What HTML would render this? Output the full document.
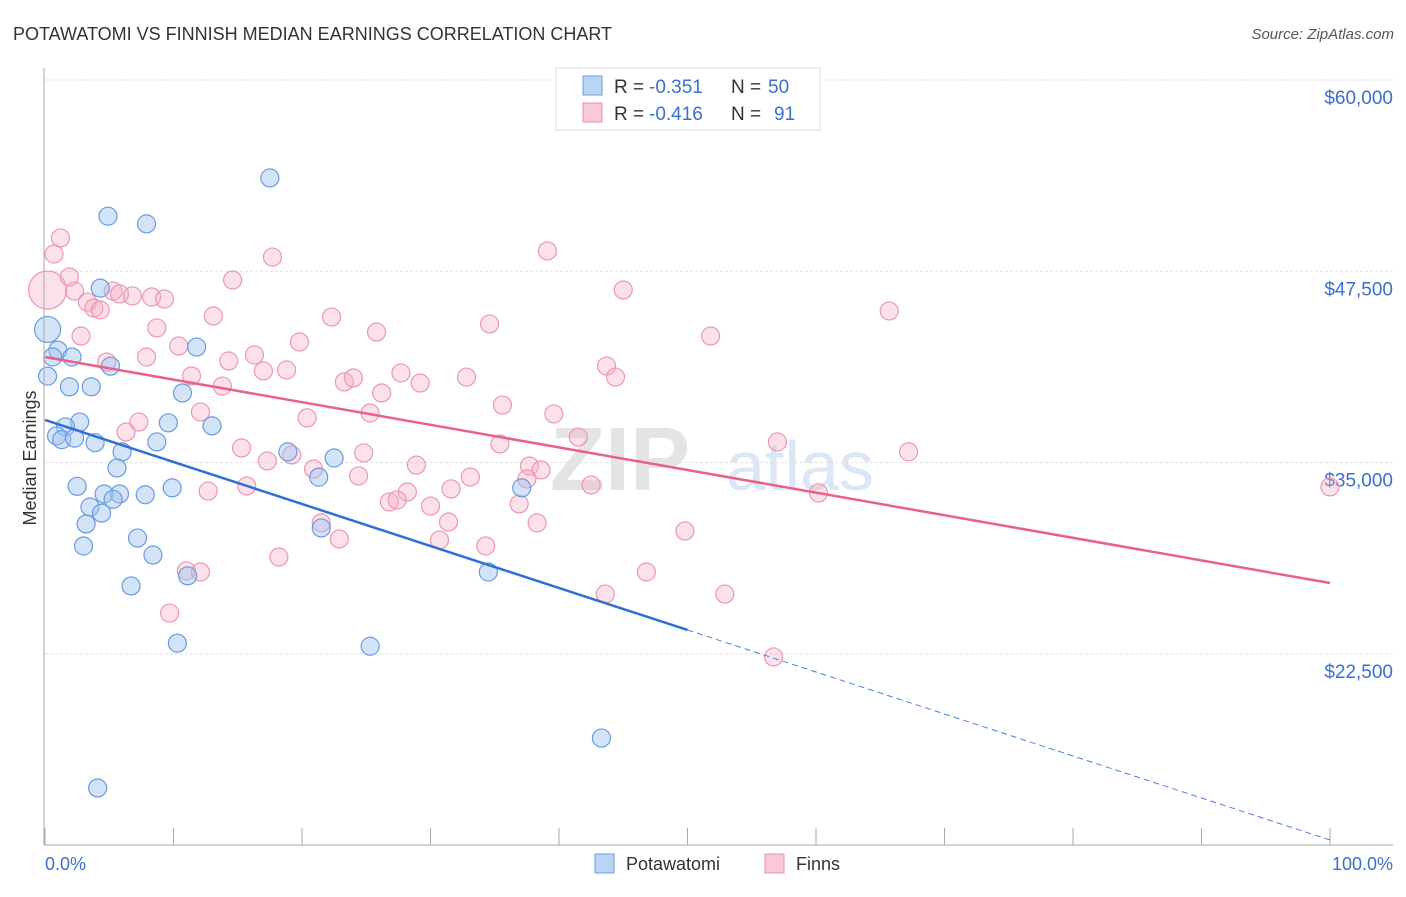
<!DOCTYPE html>
<html><head><meta charset="utf-8"><style>
body{margin:0;background:#fff;font-family:"Liberation Sans",sans-serif;}
svg text{font-family:"Liberation Sans",sans-serif;}
</style></head><body>
<svg id="c" width="1406" height="892">
<text x="13" y="40" font-size="18" fill="#333">POTAWATOMI VS FINNISH MEDIAN EARNINGS CORRELATION CHART</text>
<text x="1394" y="39" font-size="15" fill="#555" text-anchor="end" font-style="italic">Source: ZipAtlas.com</text>
<text x="36" y="458" font-size="18" fill="#333" text-anchor="middle" transform="rotate(-90 36 458)">Median Earnings</text>
<text x="620" y="490" font-size="90" fill="#e4e4e4" font-family="Liberation Serif" font-weight="bold" text-anchor="middle">ZIP</text>
<text x="800" y="490" font-size="70" fill="#dbe6f6" text-anchor="middle">atlas</text>
<g id="grid"></g><g id="pts"></g><g id="lines"></g>
<line x1="44" y1="68" x2="44" y2="845" stroke="#aaa"/>
<line x1="44" y1="845" x2="1393" y2="845" stroke="#aaa"/>
<text x="45" y="870" font-size="18" fill="#3a6fd0">0.0%</text>
<text x="1393" y="870" font-size="18" fill="#3a6fd0" text-anchor="end">100.0%</text>
<g>
<rect x="556" y="68" width="264" height="62" fill="#fff" stroke="#ddd"/>
<rect x="583" y="76" width="19" height="19" fill="#bcd4f4" stroke="#6a9be0"/>
<rect x="583" y="103" width="19" height="19" fill="#f9c9d6" stroke="#e890aa"/>
<text x="614" y="93" font-size="19" fill="#333">R =</text>
<text x="649" y="93" font-size="19" fill="#3a6fd0">-0.351</text>
<text x="731" y="93" font-size="19" fill="#333">N =</text>
<text x="768" y="93" font-size="19" fill="#3a6fd0">50</text>
<text x="614" y="120" font-size="19" fill="#333">R =</text>
<text x="649" y="120" font-size="19" fill="#3a6fd0">-0.416</text>
<text x="731" y="120" font-size="19" fill="#333">N =</text>
<text x="774" y="120" font-size="19" fill="#3a6fd0">91</text>
</g>
<g>
<rect x="595" y="854" width="19" height="19" fill="#bcd4f4" stroke="#6a9be0"/>
<text x="626" y="870" font-size="18" fill="#333">Potawatomi</text>
<rect x="765" y="854" width="19" height="19" fill="#f9c9d6" stroke="#e890aa"/>
<text x="796" y="870" font-size="18" fill="#333">Finns</text>
</g>
</svg>
<script>
const yTicks=[60000,47500,35000,22500];
const yTickLabels=["$60,000","$47,500","$35,000","$22,500"];
const blueX=[17.5,4.9,7.9,4.3,0.2,1.0,2.1,0.6,5.1,0.2,1.9,3.6,10.7,11.8,2.7,1.6,9.6,13.0,0.9,1.3,2.3,3.9,8.7,6.0,18.9,22.5,5.6,21.3,2.5,9.9,4.6,5.8,5.3,7.8,37.1,3.5,4.4,3.2,21.5,7.2,3.0,8.4,34.5,11.1,6.7,10.3,25.3,43.3,4.1];
const blueY=[53600,51100,50600,46400,43700,42350,41900,41900,41300,40650,39950,39950,39550,42550,37650,37330,37600,37400,36750,36500,36600,36300,36350,35700,35700,35300,34650,34050,33450,33350,32950,32950,32600,32900,33350,32100,31700,30990,30730,30070,29550,28960,27850,27600,26940,23200,23000,17000,13740];
const blueR=[9,9,9,9,13,9,9,9,9,9,9,9,9,9,9,9,9,9,9,9,9,9,9,9,9,9,9,9,9,9,9,9,9,9,9,9,9,9,9,9,9,9,9,9,9,9,9,9,9];
const pinkX=[1.2,0.7,0.2,1.9,14.6,17.7,39.1,45.0,2.3,3.3,3.8,4.3,5.3,5.8,6.8,8.3,9.3,13.1,22.3,34.6,65.7,2.8,8.7,10.4,19.8,25.8,51.8,4.8,7.9,14.3,16.3,17.0,18.8,11.4,13.8,23.3,24.0,27.7,29.2,32.8,26.2,43.7,44.4,12.1,20.4,25.3,35.6,39.6,7.3,6.3,15.3,19.2,24.8,35.4,41.5,57.0,67.2,17.3,20.9,28.9,37.7,38.6,24.4,33.1,37.5,15.7,12.7,28.2,31.6,42.5,26.8,27.4,30.0,36.9,60.2,100,31.4,21.5,38.3,22.9,30.7,34.3,49.8,18.2,11.0,12.1,46.8,9.7,43.6,52.9,56.7];
const pinkY=[49680,48630,46280,47130,46930,48430,48830,46280,46210,45490,45100,44970,46210,46020,45890,45820,45690,44580,44510,44060,44910,43270,43800,42620,42880,43530,43270,41570,41900,41640,42030,40990,41050,40660,40000,40270,40530,40860,40200,40590,39550,41310,40590,38310,37920,38240,38760,38180,37650,37000,35960,35500,35630,36220,36670,36350,35700,35110,34580,34840,34780,34520,34130,34060,33930,33470,33140,33080,33280,33540,32430,32560,32160,32300,33020,33410,31120,31060,31060,30010,29940,29550,30530,28830,27920,27850,27850,25170,26410,26410,22300];
const trendBlue=[37785,10340];
const trendPink=[41900,27130];
const blueSolidEnd=50;
const NS="http://www.w3.org/2000/svg";
const X=v=>45+v*12.85;
const Y=v=>80+(60000-v)*191.3/12500;
function mk(t,a,p){const e=document.createElementNS(NS,t);for(const k in a)e.setAttribute(k,a[k]);p.appendChild(e);return e;}
const grid=document.getElementById('grid');
yTicks.forEach((t,i)=>{
 const l=mk('line',{x1:45,x2:1393,y1:Y(t),y2:Y(t),stroke:'#e2e2e2','stroke-dasharray':'3 2'},grid);
 
 
 const tx=mk('text',{x:1393,y:Y(t)+24,'font-size':19,fill:'#3a6fd0','text-anchor':'end'},grid);
 tx.textContent=yTickLabels[i];
 
 
});
for(let i=0;i<=10;i++){
 const l=mk('line',{x1:X(i*10),x2:X(i*10),y1:828,y2:845,stroke:'#aaa'},grid);
 
 
}
const pts=document.getElementById('pts');
pinkX.forEach((x,i)=>{
 const c=mk('circle',{cx:X(x),cy:Y(pinkY[i]),r:i==2?19:9,fill:'rgba(246,170,194,0.35)',stroke:'#eb98b2','stroke-width':1.2},pts);
 
 
});
blueX.forEach((x,i)=>{
 const c=mk('circle',{cx:X(x),cy:Y(blueY[i]),r:blueR[i],fill:'rgba(160,196,240,0.45)',stroke:'#6a9be0','stroke-width':1.2},pts);
 
 
});
const lines=document.getElementById('lines');
const tb=x=>trendBlue[0]+(trendBlue[1]-trendBlue[0])*x/100;
const tp=x=>trendPink[0]+(trendPink[1]-trendPink[0])*x/100;
let l=mk('line',{x1:X(0),y1:Y(tb(0)),x2:X(blueSolidEnd),y2:Y(tb(blueSolidEnd)),stroke:'#2f6fd6','stroke-width':2.5},lines);


l=mk('line',{x1:X(blueSolidEnd),y1:Y(tb(blueSolidEnd)),x2:X(100),y2:Y(tb(100)),stroke:'#4a80dc','stroke-width':1,'stroke-dasharray':'6 4'},lines);


l=mk('line',{x1:X(0),y1:Y(tp(0)),x2:X(100),y2:Y(tp(100)),stroke:'#e8608c','stroke-width':2.5},lines);


</script>
</body></html>
